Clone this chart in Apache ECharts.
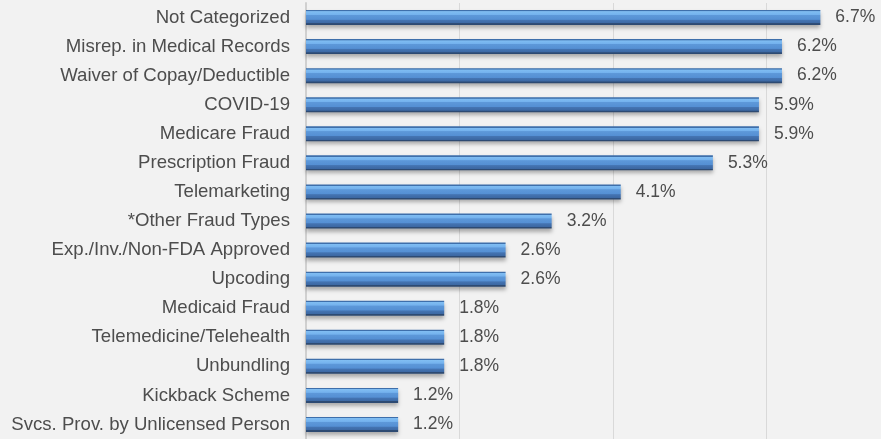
<!DOCTYPE html>
<html><head><meta charset="utf-8">
<script src="https://cdn.jsdelivr.net/npm/echarts@6/dist/echarts.min.js"></script>
<style>html,body{margin:0;padding:0;background:#f2f2f2}#c{width:881px;height:439px}</style>
</head><body><div id="c"></div>
<script>
const categories = ["Not Categorized","Misrep. in Medical Records","Waiver of Copay/Deductible","COVID-19","Medicare Fraud","Prescription Fraud","Telemarketing","*Other Fraud Types","Exp./Inv./Non-FDA Approved","Upcoding","Medicaid Fraud","Telemedicine/Telehealth","Unbundling","Kickback Scheme","Svcs. Prov. by Unlicensed Person"];
const values = [6.7,6.2,6.2,5.9,5.9,5.3,4.1,3.2,2.6,2.6,1.8,1.8,1.8,1.2,1.2];

const chart = echarts.init(document.getElementById('c'));
chart.setOption({
  backgroundColor: '#f2f2f2',
  animation: false,
  grid: {left: 306, right: 0, top: 3, bottom: -3, containLabel: false},
  xAxis: {type: 'value', min: 0, max: 7.49, interval: 2,
    axisLabel: {show: false}, axisTick: {show: false}, axisLine: {show: false},
    splitLine: {show: true, lineStyle: {color: '#d9d9d9', width: 1}}},
  yAxis: {type: 'category', data: categories, inverse: true,
    axisTick: {show: false},
    axisLine: {show: true, lineStyle: {color: '#d0d0d0', width: 2}},
    axisLabel: {color: '#4d4d4d', fontSize: 18.6, fontFamily: 'Liberation Sans, Arial, sans-serif', margin: 16}},
  series: [{type: 'bar', data: values, barWidth: 15,
    itemStyle: {
      color: new echarts.graphic.LinearGradient(0,0,0,1,[
        {offset: 0, color: '#3e6fab'},
        {offset: 0.08, color: '#3e6fab'},
        {offset: 0.1, color: '#80bdf2'},
        {offset: 0.3, color: '#74b2ee'},
        {offset: 0.35, color: '#5d98d9'},
        {offset: 0.62, color: '#5590d4'},
        {offset: 0.68, color: '#4474b2'},
        {offset: 0.88, color: '#3c68a3'},
        {offset: 0.9, color: '#2d4a72'},
        {offset: 1, color: '#2d4a72'}
      ]),
      shadowColor: 'rgba(0,0,0,0.3)', shadowBlur: 4, shadowOffsetY: 3
    },
    label: {show: true, position: 'right', distance: 15, color: '#4d4d4d', fontSize: 17.5,
      fontFamily: 'Liberation Sans, Arial, sans-serif',
      formatter: p => p.value.toFixed(1) + '%'}
  }]
});
</script></body></html>
